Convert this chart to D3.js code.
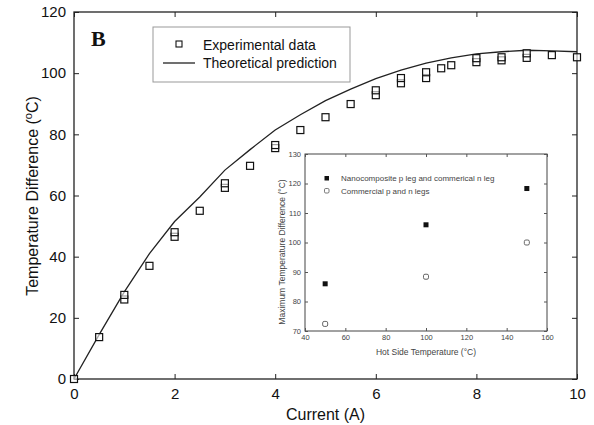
<!DOCTYPE html>
<html>
<head>
<meta charset="utf-8">
<script src="https://cdn.jsdelivr.net/npm/d3@7"></script>
<style>
  body { margin: 0; background: #fff; }
  svg { font-family: "Liberation Sans", Arial, sans-serif; }
  .axis path, .axis line { stroke: #222; }
</style>
</head>
<body>
<div id="chart"></div>
<script>
// main chart data: measured and predicted temperature difference vs current
var expCurrent = [0, 0.5, 1, 1, 1.5, 2, 2, 2.5, 3, 3, 3.5, 4, 4, 4.5, 5, 5.5, 6, 6, 6.5, 6.5, 7, 7, 7.3, 7.5, 8, 8, 8.5, 8.5, 9, 9, 9.5, 10];
var expDelta = [0, 13.7, 26, 27.5, 37, 46.5, 48, 55, 62.5, 64, 69.7, 75.5, 76.5, 81.4, 85.6, 89.9, 92.8, 94.4, 96.7, 98.4, 98.4, 100.3, 101.6, 102.6, 103.6, 104.9, 104.2, 105.2, 105, 106.5, 105.9, 105.2];

var theoCurrent = [0, 0.5, 1, 1.5, 2, 2.5, 3, 3.5, 4, 4.5, 5, 5.5, 6, 6.5, 7, 7.5, 8, 8.5, 9, 9.5, 10];
var theoDelta = [0, 14.5, 28.5, 41, 51.5, 59.5, 68.3, 75, 81.4, 86.4, 91, 94.8, 98.2, 101, 103.3, 105, 106.3, 107, 107.5, 107.3, 107];

var xTicks = [0, 2, 4, 6, 8, 10];
var yTicks = [0, 20, 40, 60, 80, 100, 120];

// inset data: maximum temperature difference vs hot side temperature
var hotSide = [50, 100, 150];
var nanoMax = [86, 106, 118.3];
var commMax = [72.4, 88.4, 100];
var insetXTicks = [40, 60, 80, 100, 120, 140, 160];
var insetYTicks = [70, 80, 90, 100, 110, 120, 130];

var svgWidth = 594;
var svgHeight = 425;

var svg = d3.select("#chart")
  .append("svg")
  .attr("width", svgWidth)
  .attr("height", svgHeight);

// main plot area
var plot = { left: 74, right: 577, top: 12, bottom: 379 };

var x = d3.scaleLinear().domain([0, 10]).range([plot.left, plot.right]);
var y = d3.scaleLinear().domain([0, 120]).range([plot.bottom, plot.top]);

// frame
svg.append("rect")
  .attr("x", plot.left)
  .attr("y", plot.top)
  .attr("width", plot.right - plot.left)
  .attr("height", plot.bottom - plot.top)
  .style("fill", "none")
  .style("stroke", "#222")
  .style("stroke-width", 1.3);

// axes with inward ticks
svg.append("g")
  .attr("class", "axis")
  .attr("transform", "translate(0," + plot.bottom + ")")
  .call(d3.axisBottom(x).tickValues(xTicks).tickSizeInner(-5).tickSizeOuter(0).tickPadding(9))
  .call(g => g.select(".domain").remove())
  .selectAll("text").style("font-size", "15px").style("fill", "#111");

svg.append("g")
  .attr("class", "axis")
  .attr("transform", "translate(0," + plot.top + ")")
  .call(d3.axisTop(x).tickValues(xTicks).tickSizeInner(-5).tickSizeOuter(0).tickFormat(""))
  .call(g => g.select(".domain").remove());

svg.append("g")
  .attr("class", "axis")
  .attr("transform", "translate(" + plot.left + ",0)")
  .call(d3.axisLeft(y).tickValues(yTicks).tickSizeInner(-5).tickSizeOuter(0).tickPadding(8))
  .call(g => g.select(".domain").remove())
  .selectAll("text").style("font-size", "15px").style("fill", "#111");

svg.append("g")
  .attr("class", "axis")
  .attr("transform", "translate(" + plot.right + ",0)")
  .call(d3.axisRight(y).tickValues(yTicks).tickSizeInner(-5).tickSizeOuter(0).tickFormat(""))
  .call(g => g.select(".domain").remove());

// axis labels
svg.append("text")
  .attr("x", (plot.left + plot.right) / 2)
  .attr("y", 420)
  .attr("text-anchor", "middle")
  .style("font-size", "16px")
  .style("fill", "#111")
  .text("Current (A)");

var yLab = svg.append("text")
  .attr("transform", "translate(38,196) rotate(-90)")
  .attr("text-anchor", "middle")
  .style("font-size", "16px")
  .style("fill", "#111");
yLab.append("tspan").text("Temperature Difference (");
yLab.append("tspan").attr("dy", -6).style("font-size", "11px").text("o");
yLab.append("tspan").attr("dy", 6).text("C)");

// panel letter
svg.append("text")
  .attr("x", 91)
  .attr("y", 46)
  .style("font-family", "'Liberation Serif', 'Times New Roman', serif")
  .style("font-weight", "bold")
  .style("font-size", "22px")
  .style("fill", "#111")
  .text("B");

// theoretical line
var line = d3.line()
  .x((d, i) => x(theoCurrent[i]))
  .y(d => y(d));

svg.append("path")
  .datum(theoDelta)
  .attr("d", line)
  .style("fill", "none")
  .style("stroke", "#222")
  .style("stroke-width", 1.3);

// experimental squares
var sq = 7;
svg.append("g")
  .selectAll("rect")
  .data(expDelta)
  .enter()
  .append("rect")
  .attr("x", (d, i) => x(expCurrent[i]) - sq / 2)
  .attr("y", d => y(d) - sq / 2)
  .attr("width", sq)
  .attr("height", sq)
  .style("fill", "#fff")
  .style("fill-opacity", 0.6)
  .style("stroke", "#111")
  .style("stroke-width", 1.2);

// legend
var legend = svg.append("g");
legend.append("rect")
  .attr("x", 153).attr("y", 27)
  .attr("width", 197).attr("height", 55)
  .style("fill", "#fff")
  .style("stroke", "#999")
  .style("stroke-width", 1);
legend.append("rect")
  .attr("x", 176).attr("y", 41)
  .attr("width", 6).attr("height", 6)
  .style("fill", "#fff").style("stroke", "#111").style("stroke-width", 1.1);
legend.append("text")
  .attr("x", 203).attr("y", 50)
  .style("font-size", "14px").style("fill", "#111")
  .text("Experimental data");
legend.append("line")
  .attr("x1", 163).attr("x2", 195)
  .attr("y1", 63).attr("y2", 63)
  .style("stroke", "#222").style("stroke-width", 1.3);
legend.append("text")
  .attr("x", 203).attr("y", 68)
  .style("font-size", "14px").style("fill", "#111")
  .text("Theoretical prediction");

// inset chart
var inset = { left: 305, right: 547, top: 154, bottom: 331 };
var ix = d3.scaleLinear().domain([40, 160]).range([inset.left, inset.right]);
var iy = d3.scaleLinear().domain([70, 130]).range([inset.bottom, inset.top]);

svg.append("rect")
  .attr("x", inset.left)
  .attr("y", inset.top)
  .attr("width", inset.right - inset.left)
  .attr("height", inset.bottom - inset.top)
  .style("fill", "#fff")
  .style("stroke", "#444")
  .style("stroke-width", 1);

var ig = svg.append("g").style("color", "#444");

ig.append("g")
  .attr("class", "axis")
  .attr("transform", "translate(0," + inset.bottom + ")")
  .call(d3.axisBottom(ix).tickValues(insetXTicks).tickSizeInner(-3).tickSizeOuter(0).tickPadding(4))
  .call(g => g.select(".domain").remove())
  .selectAll("text").style("font-size", "7.5px").style("fill", "#444");

ig.append("g")
  .attr("class", "axis")
  .attr("transform", "translate(0," + inset.top + ")")
  .call(d3.axisTop(ix).tickValues(insetXTicks).tickSizeInner(-3).tickSizeOuter(0).tickFormat(""))
  .call(g => g.select(".domain").remove());

ig.append("g")
  .attr("class", "axis")
  .attr("transform", "translate(" + inset.left + ",0)")
  .call(d3.axisLeft(iy).tickValues(insetYTicks).tickSizeInner(-3).tickSizeOuter(0).tickPadding(4))
  .call(g => g.select(".domain").remove())
  .selectAll("text").style("font-size", "7.5px").style("fill", "#444");

ig.append("g")
  .attr("class", "axis")
  .attr("transform", "translate(" + inset.right + ",0)")
  .call(d3.axisRight(iy).tickValues(insetYTicks).tickSizeInner(-3).tickSizeOuter(0).tickFormat(""))
  .call(g => g.select(".domain").remove());

ig.selectAll(".axis line").style("stroke", "#555");

ig.append("text")
  .attr("x", (inset.left + inset.right) / 2)
  .attr("y", 355)
  .attr("text-anchor", "middle")
  .style("font-size", "8.5px")
  .style("fill", "#444")
  .text("Hot Side Temperature (°C)");

ig.append("text")
  .attr("transform", "translate(285,252) rotate(-90)")
  .attr("text-anchor", "middle")
  .style("font-size", "8.5px")
  .style("fill", "#444")
  .text("Maximum Temperature Difference (°C)");

// inset points
var isq = 5;
ig.append("g")
  .selectAll("rect")
  .data(nanoMax)
  .enter()
  .append("rect")
  .attr("x", (d, i) => ix(hotSide[i]) - isq / 2)
  .attr("y", d => iy(d) - isq / 2)
  .attr("width", isq).attr("height", isq)
  .style("fill", "#111");

ig.append("g")
  .selectAll("rect")
  .data(commMax)
  .enter()
  .append("rect")
  .attr("x", (d, i) => ix(hotSide[i]) - isq / 2)
  .attr("y", d => iy(d) - isq / 2)
  .attr("width", isq).attr("height", isq)
  .attr("rx", 1.5)
  .style("fill", "#fff")
  .style("stroke", "#555")
  .style("stroke-width", 0.9);

// inset legend
ig.append("rect")
  .attr("x", 324.5).attr("y", 176)
  .attr("width", 4.5).attr("height", 4.5)
  .style("fill", "#111");
ig.append("text")
  .attr("x", 341).attr("y", 181)
  .style("font-size", "8px").style("fill", "#444")
  .text("Nanocomposite p leg and commerical n leg");
ig.append("rect")
  .attr("x", 324.5).attr("y", 188.5)
  .attr("width", 4.5).attr("height", 4.5)
  .attr("rx", 1.2)
  .style("fill", "#fff").style("stroke", "#555").style("stroke-width", 0.8);
ig.append("text")
  .attr("x", 341).attr("y", 193.5)
  .style("font-size", "8px").style("fill", "#444")
  .text("Commercial p and n legs");
</script>
</body>
</html>
